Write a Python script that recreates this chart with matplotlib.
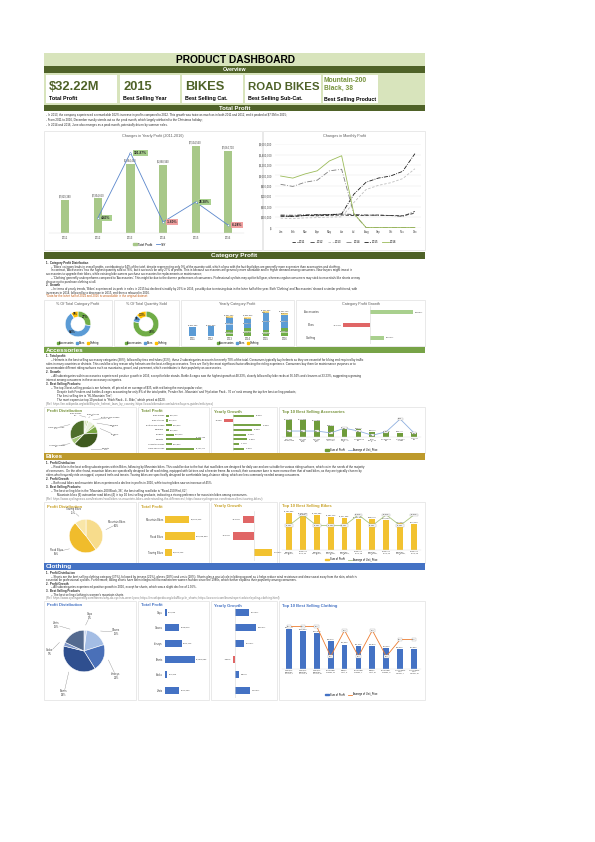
#!/usr/bin/env python3
import textwrap
import matplotlib
matplotlib.use('Agg')
import matplotlib.pyplot as plt
from matplotlib.patches import Rectangle, Patch
from matplotlib.lines import Line2D
import numpy as np

plt.rcParams['font.family'] = ['Liberation Sans', 'DejaVu Sans']

W, H = 595, 842
L, R = 44, 425

# ---------------- data ----------------
years = ['2011', '2012', '2013', '2014', '2015', '2016']
year_profit = [2829380, 2954650, 5964490, 5868940, 7534560, 7064700]
yoy_pct = [4.43, 101.87, -1.60, 28.38, -6.24]

months = ['Jan', 'Feb', 'Mar', 'Apr', 'May', 'Jun', 'Jul', 'Aug', 'Sep', 'Oct', 'Nov', 'Dec']
m2011 = [220000, 215000, 230000, 225000, 235000, 240000, 230000, 235000, 240000, 230000, 225000, 275000]
m2012 = [240000, 235000, 245000, 250000, 250000, 260000, 250000, 240000, 235000, 230000, 215000, 310000]
m2013 = [180000, 170000, 185000, 190000, 200000, 205000, 480000, 730000, 810000, 860000, 940000, 1130000]
m2014 = [830000, 790000, 870000, 910000, 1090000, 1120000, 260000, 0, 0, 0, 0, 0]
m2015 = [220000, 215000, 230000, 240000, 245000, 260000, 640000, 870000, 950000, 990000, 1080000, 1420000]
m2016 = [990000, 950000, 1030000, 1090000, 1280000, 1380000, 270000, 0, 0, 0, 0, 0]

categories = ['Accessories', 'Bikes', 'Clothing']
cat_profit_share = [27, 64, 9]
cat_qty_share = [78, 9, 13]
acc_year = [0, 0, 1952310, 2451870, 1796540, 2512080]
bikes_year = [2829380, 2954650, 3460950, 2564660, 5048570, 3773250]
clo_year = [0, 0, 551230, 852410, 689450, 779370]
cat_growth = [39.83, -25.26, 13.04]

acc_sub = ['Bike Racks', 'Bike Stands', 'Bottles and Cages', 'Cleaners', 'Fenders',
           'Helmets', 'Hydration Packs', 'Tires and Tubes']
acc_profit = [290120, 190270, 580620, 300330, 728253, 3335199, 560893, 2727115]
acc_growth = [36.34, -13.88, 48.33, 33.23, 23.13, 24.84, 11.17, 19.61]
acc_top = ['Sport-100 Helmet, Red', 'Sport-100 Helmet, Black', 'Sport-100 Helmet, Blue',
           'Fender Set - Mountain', 'Hydration Pack - 70 oz.', 'HL Mountain Tire',
           'Water Bottle - 30 oz.', 'ML Mountain Tire', 'Hitch Rack - 4-Bike', 'LL Road Tire']
acc_top_profit = [1145368, 1141028, 1048803, 728253, 560893, 505679, 367895, 325093, 290120, 263114]
acc_top_price = [35, 35, 35, 22, 55, 35, 5, 30, 120, 21]

bike_sub = ['Mountain Bikes', 'Road Bikes', 'Touring Bikes']
bike_profit = [8268450, 10089890, 2273120]
bike_growth = [-27.52, -54.61, 45.23]
bike_top = ['Mountain-200 Black, 38', 'Road-150 Red, 62', 'Mountain-200 Black, 42',
            'Mountain-200 Silver, 38', 'Mountain-200 Black, 46', 'Road-150 Red, 48',
            'Mountain-200 Silver, 42', 'Road-150 Red, 52', 'Mountain-200 Silver, 46',
            'Road-150 Red, 56']
bike_top_profit = [1193390, 1143754, 1139283, 1083140, 1047596, 1020040, 998770, 976310, 862650, 842250]
bike_top_price = [2295, 3578, 2295, 2295, 2295, 3578, 2295, 3578, 2295, 3578]

clo_sub = ['Caps', 'Gloves', 'Jerseys', 'Shorts', 'Socks', 'Vests']
clo_profit = [57630, 519870, 604110, 1083080, 86420, 521350]
clo_growth = [26.10, 39.50, 17.20, -1.96, 8.60, 28.20]
clo_top = ["Women's Mountain Shorts, L", "Women's Mountain Shorts, S", "Women's Mountain Shorts, M",
           'Half-Finger Gloves, M', 'Classic Vest, S', 'Half-Finger Gloves, L', 'Classic Vest, M',
           'Half-Finger Gloves, S', 'Long-Sleeve Logo Jersey, L', 'Long-Sleeve Logo Jersey, M']
clo_top_profit = [123540, 116380, 110910, 86470, 75560, 71230, 69870, 64450, 62300, 60980]
clo_top_price = [70, 70, 70, 24, 64, 24, 64, 24, 50, 50]

kpi_values = ['$32.22M', '2015', 'BIKES', 'ROAD BIKES', 'Mountain-200\nBlack, 38']
kpi_labels = ['Total Profit', 'Best Selling Year', 'Best Selling Cat.', 'Best Selling Sub-Cat.',
              'Best Selling Product']

tp_text = [
    ('n', "- In 2013, the company experienced a remarkable 102% increase in profits compared to 2012. This growth was twice as much as in both 2011 and 2012, and it peaked at $7.5M in 2015;"),
    ('n', "- From 2011 to 2016, December mostly stands out as the peak month, which largely attributed to the Christmas holiday;"),
    ('n', "- In 2014 and 2016, June also emerges as a peak month, potentially driven by summer sales."),
]
cat_text = [
    ('h', "1.  Category Profit Distribution"),
    ('i', "– 'Bikes' category leads in overall profits, contributing to 64% of the total, despite representing only 9% of the quantity sold, which aligns with the fact that bikes are generally more expensive than accessories and clothing."),
    ('i', "In contrast, 'Accessories' has the highest quantity sold at 78%, but it accounts for only 27% of profits. This is because accessories are generally more affordable and in higher demand among consumers. New buyers might invest in"),
    ('n', "accessories to upgrade their bikes, while existing bike owners purchase accessories for replacements or maintenance;"),
    ('i', "– 'Clothing' generally underperforms compared to 'Accessories.' This might be due to the diverse preferences of consumers. Professional cyclists may opt for full gear, whereas regular consumers may stick to essentials like shorts or may"),
    ('n', "choose not to purchase clothing at all."),
    ('h', "2.  Growth"),
    ('i', "– In terms of yearly trends, 'Bikes' experienced its peak in sales in 2015 but declined steadily by 25% in 2016, possibly due to missing data in the latter half of the year. Both 'Clothing' and 'Accessories' showed a similar profit trend, with"),
    ('n', "increases in 2014, followed by a decrease in 2015, and then a rebound in 2016."),
    ('o', "*Data for the latter half of 2014 and 2016 is unavailable in the original dataset."),
]
acc_text = [
    ('h', "1.  Total profit:"),
    ('i', "– Helmets is the best selling accessory categories (38%), followed by tires and tubes (31%), these 2 subcategories accounts for nearly 70% of the total. Consumers typically buy helmets as they are essential for biking and required by traffic"),
    ('n', "rules in many countries or districts. This could be a key reason why helmets are the best-selling accessories. Tires are likely the most significant factor affecting the riding experience. Consumers buy them for maintenance purposes or to"),
    ('n', "accommodate different riding surfaces such as mountains, gravel, and pavement, which contributes to their popularity as accessories."),
    ('h', "2.  Growth:"),
    ('i', "– All subcategories within accessories experienced positive growth in 2016, except for bike stands. Bottle & cages saw the highest growth at 48.33%, closely followed by bike racks at 36.34% and cleaners at 33.23%, suggesting a growing"),
    ('n', "interest among consumers in these accessory categories."),
    ('h', "3.  Best Selling Products:"),
    ('i', "– The top 3 best-selling products are helmets, all priced at an average of $35, with red being the most popular color;"),
    ('j', "Despite both Fenders and bottles & cages accounting for only 8% of the total profits, 'Fender Set - Mountain' and 'Hydration Pack - 70 oz' rank among the top five best-selling products;"),
    ('j', "The best-selling tire is \"HL Mountain Tire\";"),
    ('j', "The most expensive top 10 product is \"Hitch Rack - 4 - Bike,\" which priced at $120."),
    ('r', "(Ref: https://en.wikipedia.org/wiki/Bicycle_helmet_laws_by_country; https://www.bikeradar.com/advice/buyers-guides/mtb-tyres)"),
]
bike_text = [
    ('h', "1.  Profit Distribution"),
    ('i', "– Road bike is the best selling subcategories within Bikes, following by Mountain bikes. This could be due to the fact that road bikes are designed for daily use and are suitable for various riding surfaces, which cater the needs of the majority"),
    ('n', "of consumers.  On the other hand, mountain bikes are specifically designed for off road riding, equipped with fat tires and a heavier frame. As a result, their consumer base is more narrow than that of road bikes, as they are typically chosen by"),
    ('n', "riders who frequently ride on rugged, unpaved trails and terrain. Touring bikes are specifically designed for comfortable long-distance riding, which are less commonly needed among consumers."),
    ('h', "2.  Profit Growth"),
    ('i', "– Both road bikes and mountain bikes experienced a decline in profits in 2016, while touring bikes saw an increase of 45%."),
    ('h', "3.  Best Selling Products:"),
    ('i', "– The best selling bike is the \"Mountain-200 Black, 38\", the best selling road bike is \"Road-150 Red, 62\";"),
    ('j', "Mountain bikes (6) outnumber road bikes (4) in top 10 best-selling products, indicating a strong preference for mountain bikes among consumers."),
    ('r', "(Ref: https://www.cyclingnews.com/features/road-bikes-vs-mountain-bikes-understanding-the-differences/; https://www.cyclingnews.com/features/best-touring-bikes/)"),
]
clo_text = [
    ('h', "1.  Profit Distribution"),
    ('i', "– Shorts are the best selling clothing category (37%), followed by jerseys (21%), gloves (18%) and vests (18%). Shorts play a crucial role in biking apparel as it helps reduce wind resistance and draw sweat away from the skin, which is"),
    ('n', "essential for professional cyclists. Furthermore, biking shorts have been integrated into mainstream women fashion since the 1980s, which further explains their popularity among consumers."),
    ('h', "2.  Profit Growth"),
    ('i', "– All subcategories experienced positive growth in 2016, except for shorts, which saw a slight decline of 1.96%."),
    ('h', "3.  Best Selling Products"),
    ('i', "– The best selling clothing is women's mountain shorts."),
    ('r', "(Ref: https://www.cyclingweekly.com/fitness/why-do-cyclists-wear-lycra; https://en.wikipedia.org/wiki/Bicycle_shorts; https://www.rei.com/learn/expert-advice/cycling-clothing.html)"),
]

# ---------------- colours ----------------
LIGHT = '#d8e4bc'
DARK = '#4f6228'
ACC_C = '#77a347'
BIKE_C = '#bd9a2c'
CLO_C = '#4472c4'
CAT_COLORS = ['#70ad47', '#5b9bd5', '#ffc000']
NEG = '#e06666'
GRID = '#d9d9d9'
TXT = '#404040'

fig = plt.figure(figsize=(W / 100, H / 100), dpi=100)
bg = fig.add_axes([0, 0, 1, 1])
bg.set_xlim(0, W)
bg.set_ylim(H, 0)
bg.axis('off')
renderer = fig.canvas.get_renderer()


def axes_px(x0, y0, x1, y1):
    ax = fig.add_axes([x0 / W, 1 - y1 / H, (x1 - x0) / W, (y1 - y0) / H])
    ax.set_facecolor('none')
    return ax


def rect(x0, y0, x1, y1, **kw):
    bg.add_patch(Rectangle((x0, y0), x1 - x0, y1 - y0, **kw))


def txt(x, y, s, **kw):
    return bg.text(x, y, s, parse_math=False, **kw)


def fit(t, maxw):
    w = t.get_window_extent(renderer).width
    if w > maxw:
        t.set_fontsize(t.get_fontsize() * maxw / w)


def band(y0, y1, color, title, left=False, size=4.5):
    rect(L, y0, R, y1, fc=color, ec='none')
    if left:
        txt(L + 2, (y0 + y1) / 2 + 0.3, title, ha='left', va='center', color='white',
            weight='bold', fontsize=size)
    else:
        txt((L + R) / 2, (y0 + y1) / 2 + 0.3, title, ha='center', va='center',
            color='white', weight='bold', fontsize=size)


def body(lines, y0, step, size=2.1):
    xs = {'h': 46, 'n': 46, 'o': 46, 'r': 46, 'i': 51, 'j': 57}
    for i, (kind, s) in enumerate(lines):
        x = xs[kind]
        color = {'o': '#c55a11', 'r': '#7f7f7f'}.get(kind, '#262626')
        t = txt(x, y0 + i * step, s, ha='left', va='center', fontsize=size,
                weight='bold' if kind == 'h' else 'normal', color=color)
        fit(t, R - 3 - x)


def panel(x0, y0, x1, y1, title, color=None):
    rect(x0, y0, x1, y1, fc='white', ec=GRID, lw=0.4)
    if color is None:
        txt((x0 + x1) / 2, y0 + 5, title, ha='center', va='center', fontsize=2.7, color='#595959')
    else:
        txt(x0 + 3, y0 + 4.5, title, ha='left', va='center', fontsize=3.0, color=color,
            weight='bold')


def clean(ax):
    for s in ax.spines.values():
        s.set_visible(False)
    ax.set_xticks([])
    ax.set_yticks([])


def money(v):
    return f'${v:,.0f}'


# ---------------- header ----------------
rect(L, 53, R, 66, fc=LIGHT, ec='none')
txt(235, 59.8, 'PRODUCT DASHBOARD', ha='center', va='center', fontsize=7.4, weight='bold')
band(66, 72.5, DARK, 'Overview', size=3.8)
rect(L, 72.5, R, 104.5, fc=LIGHT, ec='none')
kpi_boxes = [(46, 117), (120, 180), (182, 243), (245, 321), (323, 378)]
for (x0, x1), v, lab in zip(kpi_boxes, kpi_values, kpi_labels):
    rect(x0, 74.5, x1, 103, fc='white', ec='none')
    if '\n' in v:
        txt(x0 + 1, 84.5, v, ha='left', va='center', fontsize=4.8, color='#76923c',
            weight='bold', linespacing=1.3)
        t = txt(x0 + 1, 100, lab, ha='left', va='center', fontsize=3.9, weight='bold')
    else:
        t = txt(x0 + 3, 86.5, v, ha='left', va='center', fontsize=9.3, color=DARK, weight='bold')
        fit(t, x1 - x0 - 5)
        t = txt(x0 + 3, 98.5, lab, ha='left', va='center', fontsize=3.9, weight='bold')
    fit(t, x1 - x0 - 3)

# ---------------- total profit ----------------
band(104.5, 111, DARK, 'Total Profit', size=4.3)
body(tp_text, 115, 5, size=2.1)

panel(L, 131, 262, 250, 'Changes in Yearly Profit (2011-2016)')
panel(263, 131, R, 250, 'Changes in Monthly Profit')

ax = axes_px(49, 144, 244.5, 232.5)
xs = np.arange(len(years))
ymax = 7.67e6
ax.bar(xs, year_profit, width=0.25, color='#a8c889')
ax.set_xlim(-0.5, len(years) - 0.5)
ax.set_ylim(0, ymax)
for x, v in zip(xs, year_profit):
    ax.text(x, v + ymax * 0.012, money(v), ha='center', va='bottom', fontsize=1.8, color=TXT)
clean(ax)
ax.spines['bottom'].set_visible(True)
ax.spines['bottom'].set_color(GRID)
ax.spines['bottom'].set_linewidth(0.3)
ax.set_xticks(xs)
ax.set_xticklabels(years, fontsize=2, color=TXT)
ax.tick_params(length=0, pad=2.5)
ax2 = ax.twinx()
ax2.plot(xs[1:], yoy_pct, color='#5b87cc', lw=0.6, marker='o', ms=1.2, mfc='white', mew=0.3)
ax2.set_ylim(-17.2, 114.9)
ax2.axis('off')
for x, v in zip(xs[1:], yoy_pct):
    ax2.annotate(f'{v:.2f}%', (x, v), xytext=(2.5, 0), textcoords='offset points', ha='left',
                 va='center', fontsize=2.3, weight='bold', color='#262626',
                 bbox=dict(boxstyle='square,pad=0.3', fc='#a9d08e' if v >= 0 else '#f0a0a0', ec='none'))
fig.legend([Patch(color='#a8c889'), Line2D([0], [0], color='#5b87cc', lw=0.6)],
           ['Total Profit', 'YoY'], loc='center', bbox_to_anchor=(150 / W, 1 - 244.5 / H),
           ncol=2, fontsize=2.2, frameon=False, handlelength=1.2, handleheight=0.6,
           columnspacing=1.2, handletextpad=0.4)

ax = axes_px(274.5, 144.3, 421, 227.5)
mx = np.arange(12)
month_series = [m2011, m2012, m2013, m2014, m2015, m2016]
styles = [('#262626', (0, (4, 2))), ('#404040', (0, (5, 2, 1, 2))), ('#bfbfbf', (0, (3, 2))),
          ('#7f7f7f', (0, (6, 2, 1, 2))), ('#1a1a1a', (0, (5, 1.5, 1, 1.5))), ('#9bbb59', '-')]
handles = []
for vals, (c, ls), yr in zip(month_series, styles, years):
    h, = ax.plot(mx, vals, color=c, ls=ls, lw=0.6, label=yr)
    handles.append(h)
ax.set_xlim(-0.5, 11.5)
ax.set_ylim(0, 1.6e6)
ticks = np.arange(0, 1.6e6 + 1, 2e5)
ax.set_yticks(ticks)
ax.set_yticklabels(['$-' if v == 0 else money(v) for v in ticks], fontsize=1.9, color=TXT)
ax.set_xticks(mx)
ax.set_xticklabels(months, fontsize=1.9, color=TXT)
ax.tick_params(length=0, pad=1.5)
ax.grid(axis='y', color='#e6e6e6', lw=0.3)
for s in ax.spines.values():
    s.set_visible(False)
fig.legend(handles, years, loc='center', bbox_to_anchor=(344 / W, 1 - 242 / H), ncol=6,
           fontsize=2.1, frameon=False, handlelength=2.2, columnspacing=1.4, handletextpad=0.4)

# ---------------- category profit ----------------
band(252, 259, DARK, 'Category Profit', size=4.6)
body(cat_text, 263, 3.7)

panel(L, 299.5, 111.5, 346, '% Of Total Category Profit')
panel(113.5, 299.5, 179, 346, '% Of Total Quantity Sold')
panel(181, 299.5, 294, 346, 'Yearly Category Profit')
panel(296, 299.5, R, 346, 'Category Profit Growth')

for (x0, x1), share in [((62, 94), cat_profit_share), ((130, 162), cat_qty_share)]:
    ax = axes_px(x0, 308, x1, 340)
    ax.pie(share, colors=CAT_COLORS, startangle=90, counterclock=False,
           wedgeprops=dict(width=0.45, edgecolor='white', linewidth=0.4))
    start = 0
    for s in share:
        mid = np.deg2rad(90 - (start + s / 2) * 3.6)
        ax.text(0.78 * np.cos(mid), 0.78 * np.sin(mid), f'{s}%', ha='center', va='center',
                fontsize=2.3, weight='bold', color='#262626')
        start += s
    ax.set_aspect('equal')
    fig.legend([Patch(color=c) for c in CAT_COLORS], categories, loc='center',
               bbox_to_anchor=((x0 + x1) / 2 / W, 1 - 343 / H), ncol=3, fontsize=1.9,
               frameon=False, handlelength=0.7, handleheight=0.7, columnspacing=0.8,
               handletextpad=0.3)

ax = axes_px(183.5, 309, 293.5, 336)
bottom = np.zeros(len(years))
for vals, c in zip([acc_year, bikes_year, clo_year], CAT_COLORS):
    vals = np.array(vals, dtype=float)
    ax.bar(xs, vals, width=0.38, bottom=bottom, color=c)
    for x, b, v in zip(xs, bottom, vals):
        if v > 0 and acc_year[x] > 0:
            ax.text(x, b + v / 2, money(v), ha='center', va='center', fontsize=1.3, color=TXT,
                    bbox=dict(boxstyle='square,pad=0.12', fc='white', ec='none', alpha=0.55))
    bottom += vals
ax.set_xlim(-0.5, len(years) - 0.5)
ax.set_ylim(0, 8.13e6)
for x, v in zip(xs, bottom):
    ax.text(x, v + 1.2e5, money(v), ha='center', va='bottom', fontsize=1.5, color=TXT)
clean(ax)
ax.set_xticks(xs)
ax.set_xticklabels(years, fontsize=1.9, color=TXT)
ax.tick_params(length=0, pad=1)
fig.legend([Patch(color=c) for c in CAT_COLORS], categories, loc='center',
           bbox_to_anchor=(238 / W, 1 - 343 / H), ncol=3, fontsize=1.9, frameon=False,
           handlelength=0.7, handleheight=0.7, columnspacing=0.8, handletextpad=0.3)

x0, x1, zero, k = 330, 421, 370.4, 1.08
ax = axes_px(x0, 306, x1, 344)
ys = np.arange(len(categories))
ax.barh(ys, cat_growth, height=0.3, color=['#a9d08e' if v >= 0 else NEG for v in cat_growth])
ax.set_xlim((x0 - zero) / k, (x1 - zero) / k)
ax.set_ylim(len(categories) - 0.5, -0.5)
ax.axvline(0, color=GRID, lw=0.4)
for y, v in zip(ys, cat_growth):
    ax.text(v + (1.5 if v >= 0 else -1.5), y, f'{v:.2f}%', ha='left' if v >= 0 else 'right',
            va='center', fontsize=1.7, color=TXT)
clean(ax)
for y, c in zip(ys, categories):
    yy = 306 + (y + 0.5) * (344 - 306) / len(categories)
    txt(311, yy, c, ha='center', va='center', fontsize=2.0, color=TXT)


# ---------------- shared chart helpers ----------------
def pie_chart(box, vals, names, colors, label_pos, size=1.9):
    x0, y0, x1, y1 = box
    ax = axes_px(x0, y0, x1, y1)
    ax.pie(vals, colors=colors, startangle=90, counterclock=False,
           wedgeprops=dict(edgecolor='white', linewidth=0.4))
    ax.set_aspect('equal')
    cx, cy, r = (x0 + x1) / 2, (y0 + y1) / 2, (x1 - x0) / 2
    total = float(sum(vals))
    start = 0.0
    for v, n, (lx, ly) in zip(vals, names, label_pos):
        ang = np.deg2rad((start + v / 2) / total * 360)
        px, py = cx + r * np.sin(ang), cy - r * np.cos(ang)
        lab = f'{n}\n{v / total * 100:.0f}%'
        txt(lx, ly, lab, ha='center', va='center', fontsize=size, color=TXT, linespacing=1.05)
        d = np.hypot(lx - px, ly - py)
        if d > 5:
            f = 1 - 3.8 / d
            bg.plot([px, px + (lx - px) * f], [py, py + (ly - py) * f], color='#7f7f7f', lw=0.25)
        start += v


def total_bars(box, cats, vals, color, xmax, size=1.8):
    x0, y0, x1, y1 = box
    ax = axes_px(x0, y0, x1, y1)
    ys = np.arange(len(cats))
    ax.barh(ys, vals, height=0.45, color=color)
    ax.set_ylim(len(cats) - 0.5, -0.5)
    ax.set_xlim(0, xmax)
    clean(ax)
    ax.set_yticks(ys)
    ax.set_yticklabels(cats, fontsize=size, color=TXT)
    ax.tick_params(length=0, pad=1.5)
    for y, v in zip(ys, vals):
        if v > 0.78 * xmax:
            ax.text(v, y - 0.3, money(v), ha='center', va='bottom', fontsize=size * 0.9, color=TXT)
        else:
            ax.text(v + xmax * 0.03, y, money(v), ha='left', va='center', fontsize=size * 0.9,
                    color=TXT)


def growth_bars(box, vals, zero, k, color, size=1.7):
    x0, y0, x1, y1 = box
    ax = axes_px(x0, y0, x1, y1)
    ys = np.arange(len(vals))
    ax.barh(ys, vals, height=0.45, color=[color if v >= 0 else NEG for v in vals])
    ax.set_xlim((x0 - zero) / k, (x1 - zero) / k)
    ax.set_ylim(len(vals) - 0.5, -0.5)
    ax.axvline(0, color=GRID, lw=0.4)
    for y, v in zip(ys, vals):
        off = 2.0 / k
        ax.text(v + (off if v >= 0 else -off), y, f'{v:.2f}%', ha='left' if v >= 0 else 'right',
                va='center', fontsize=size, color=TXT)
    clean(ax)


def top10(box, names, profit, price, bar_c, line_c, ymax, plim, legend_y, size=1.5):
    x0, y0, x1, y1 = box
    ax = axes_px(x0, y0, x1, y1)
    xs = np.arange(len(names))
    ax.bar(xs, profit, width=0.42, color=bar_c)
    ax.set_xlim(-0.5, len(names) - 0.5)
    ax.set_ylim(0, ymax)
    for x, v in zip(xs, profit):
        ax.text(x, v + ymax * 0.02, money(v), ha='center', va='bottom', fontsize=size, color=TXT)
    clean(ax)
    ax.spines['bottom'].set_visible(True)
    ax.spines['bottom'].set_color(GRID)
    ax.spines['bottom'].set_linewidth(0.3)
    ax.set_xticks(xs)
    ax.set_xticklabels([textwrap.fill(n, 11) for n in names], fontsize=size * 0.95, color=TXT,
                       linespacing=0.95)
    ax.tick_params(length=0, pad=1)
    ax2 = ax.twinx()
    ax2.plot(xs, price, color=line_c, lw=0.6)
    ax2.set_ylim(*plim)
    ax2.axis('off')
    for x, p in zip(xs, price):
        ax2.text(x, p, money(p), ha='center', va='center', fontsize=size, color=TXT,
                 bbox=dict(boxstyle='square,pad=0.3', fc='white', ec='#a6a6a6', lw=0.25))
    fig.legend([Patch(color=bar_c), Line2D([0], [0], color=line_c, lw=0.6)],
               ['Sum of Profit', 'Average of Unit_Price'], loc='center',
               bbox_to_anchor=((x0 + x1) / 2 / W, 1 - legend_y / H), ncol=2, fontsize=1.8,
               frameon=False, handlelength=1.6, handleheight=0.6, columnspacing=1.2,
               handletextpad=0.4)


# ---------------- accessories ----------------
band(346.5, 353, ACC_C, 'Accessories', left=True, size=4.6)
body(acc_text, 356.5, 3.95)
panel(L, 407, 136, 452.5, 'Profit Distribution', '#77933c')
panel(138, 407, 209, 452.5, 'Total Profit', '#77933c')
panel(211, 407, 277, 452.5, 'Yearly Growth', '#77933c')
panel(279, 407, R, 452.5, 'Top 10 Best Selling Accessories', '#77933c')

acc_colors = ['#d8e4bc', '#c4d79b', '#ebf1de', '#b7cf8a', '#7aa843', '#3f5a1f', '#a6c97a', '#4f6f2b']
acc_lab_pos = [(76, 414.5), (93, 414.5), (110, 418), (114, 426), (115, 435), (106, 449),
               (57, 446), (56, 428)]
pie_chart((67, 417, 101, 451), acc_profit, acc_sub, acc_colors, acc_lab_pos, size=1.6)
total_bars((166, 413.5, 207.5, 451), acc_sub, acc_profit, ACC_C, 4.0e6, size=1.6)
growth_bars((214.6, 413.5, 276, 451), acc_growth, 232.5, 0.595, ACC_C, size=1.5)
top10((282, 415, 421, 437), acc_top, acc_top_profit, acc_top_price, '#6f9c3a', '#8fb0e0',
      1.48e6, (-7, 148), 450, size=1.35)

# ---------------- bikes ----------------
band(453, 459.5, BIKE_C, 'Bikes', left=True, size=4.6)
body(bike_text, 463, 3.95)
panel(L, 502, 136, 562.5, 'Profit Distribution', '#c9a227')
panel(138, 502, 209, 562.5, 'Total Profit', '#c9a227')
panel(211, 502, 277, 562.5, 'Yearly Growth', '#c9a227')
panel(279, 502, R, 562.5, 'Top 10 Best Selling Bikes', '#c9a227')

bike_colors = ['#f7dc8c', '#f0bc2c', '#f9e6a8']
bike_lab_pos = [(117, 524), (56, 552), (73, 511)]
pie_chart((65, 515, 107, 557), bike_profit, bike_sub, bike_colors, bike_lab_pos, size=1.8)
total_bars((165, 511, 207.5, 561), bike_sub, bike_profit, '#f2c230', 14.46e6)
growth_bars((214.6, 511, 276, 561), bike_growth, 254.3, 0.397, '#f2c230')
top10((282, 508, 421, 550), bike_top, bike_top_profit, bike_top_price, '#f2c230', '#a9c47f',
      1.364e6, (-640, 4400), 559.5)

# ---------------- clothing ----------------
band(563, 569.5, CLO_C, 'Clothing', left=True, size=4.6)
body(clo_text, 573, 3.6)
panel(L, 601, 136, 700, 'Profit Distribution', CLO_C)
panel(138, 601, 209, 700, 'Total Profit', CLO_C)
panel(211, 601, 277, 700, 'Yearly Growth', CLO_C)
panel(279, 601, R, 700, 'Top 10 Best Selling Clothing', CLO_C)

clo_colors = ['#c9d6ee', '#a4bde4', '#4a70b8', '#2f4f8f', '#7f97c9', '#546a8f']
clo_lab_pos = [(90, 616), (116, 632), (116, 676), (64, 693), (50, 652), (56, 625)]
pie_chart((58, 625, 110, 677), clo_profit, clo_sub, clo_colors, clo_lab_pos, size=1.9)
total_bars((165, 604.5, 207.5, 698), clo_sub, clo_profit, CLO_C, 1.55e6)
growth_bars((214.6, 604.5, 276, 698), clo_growth, 234.5, 0.546, CLO_C)
top10((282, 610, 421, 669), clo_top, clo_top_profit, clo_top_price, CLO_C, '#ed7d31',
      1.83e5, (4.6, 95.4), 694.5)

fig.savefig('out.png', dpi=100)
